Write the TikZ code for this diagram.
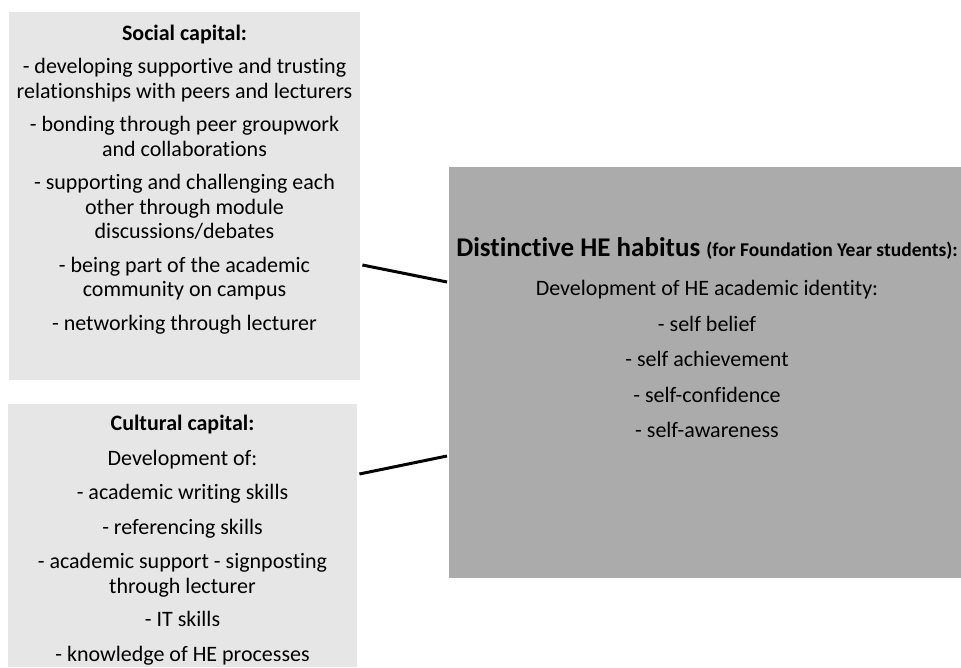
\documentclass[tikz,border=0pt]{standalone}
\usepackage{fontspec}
\setmainfont{Carlito}[Ligatures=NoCommon]
\usetikzlibrary{calc}
\definecolor{capgray}{HTML}{E6E6E6}
\definecolor{habgray}{HTML}{ABABAB}
\begin{document}
\begin{tikzpicture}[x=1pt,y=-1pt,
	panel/.style={fill=#1, draw=none, inner sep=0pt, anchor=north west},
	body/.style={align=center, inner sep=0pt, anchor=north, font=\fontsize{22}{24.5}\selectfont},
	link/.style={line width=3pt}]
				\useasboundingbox (0,0) rectangle (961,667);
				% boxes
				\node[panel=capgray, minimum width=351pt, minimum height=368pt] (S) at (9,12) {};
				\node[panel=capgray, minimum width=349pt, minimum height=263pt] (C) at (8,404) {};
				\node[panel=habgray, minimum width=512pt, minimum height=411pt] (H) at (449,167) {};
				% texts
				\node[body] (Stxt) at (184.5,24.5) {\textbf{Social capital:}\\[9pt]
					- developing supportive and trusting\\ relationships with peers and lecturers\\[9pt]
					- bonding through peer groupwork\\ and collaborations\\[9pt]
					- supporting and challenging each\\ other through module\\ discussions/debates\\[9pt]
					- being part of the academic\\ community on campus\\[9pt]
					- networking through lecturer};
				\node[body] (Ctxt) at (182.5,415) {\textbf{Cultural capital:}\\[10pt]
					Development of:\\[10pt]
					- academic writing skills\\[10pt]
					- referencing skills\\[10pt]
					- academic support - signposting\\ through lecturer\\[9pt]
					- IT skills\\[10pt]
					- knowledge of HE processes};
				\node[body] (Htxt) at (707,237.5) {{\fontsize{27}{30}\selectfont\textbf{Distinctive HE habitus} {\fontsize{19.5}{22}\selectfont\textbf{(for Foundation Year students):}}}\\[14.5pt]
					Development of HE academic identity:\\[11pt]
					- self belief\\[11pt]
					- self achievement\\[11pt]
					- self-confidence\\[11pt]
					- self-awareness};
				% links
				\draw[link] ($(S.north east)+(2,253)$) -- ($(H.north west)+(-2,115)$);
				\draw[link] ($(C.north east)+(2,70)$) -- ($(H.north west)+(-2,289)$);
\end{tikzpicture}
\end{document}
